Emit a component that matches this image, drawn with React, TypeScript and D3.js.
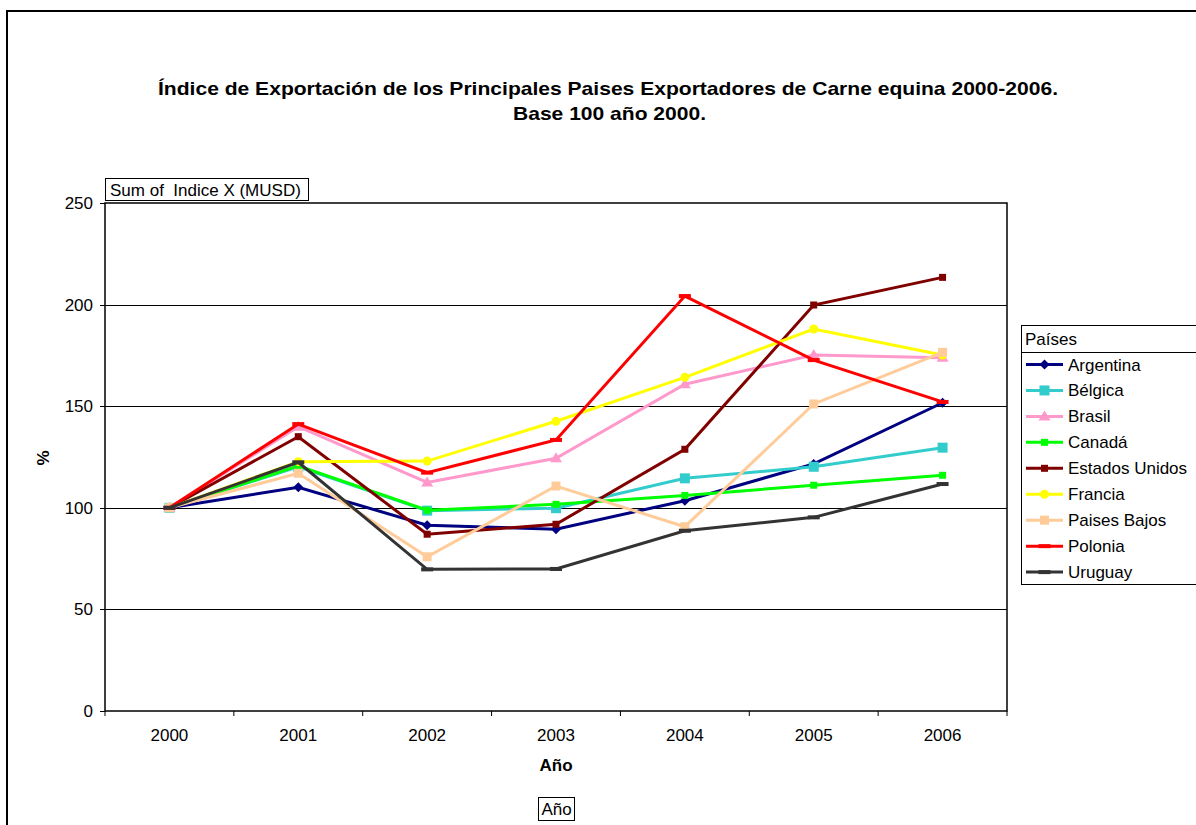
import React from "react";
import * as d3 from "d3";

const years = ["2000", "2001", "2002", "2003", "2004", "2005", "2006"];
const yTicks = [0, 50, 100, 150, 200, 250];

const countries = ["Argentina", "Bélgica", "Brasil", "Canadá", "Estados Unidos", "Francia", "Paises Bajos", "Polonia", "Uruguay"];
const colors = ["#000080", "#33CCCC", "#FF99CC", "#00FF00", "#800000", "#FFFF00", "#FFCC99", "#FF0000", "#333333"];
const markers = ["diamond", "bigsquare", "triangle", "square", "square", "circle", "midsquare", "dash", "dash"];

const argentina = [100, 110.1, 91.4, 89.5, 103.5, 121.6, 151.7];
const belgica = [100, 120.2, 98.6, 99.8, 114.5, 120.2, 129.6];
const brasil = [100, 139.9, 112.5, 124.4, 160.8, 175.2, 173.9];
const canada = [100, 120.6, 98.8, 101.7, 106.1, 111.1, 116.0];
const estadosUnidos = [100, 135.0, 87.0, 91.9, 128.8, 199.8, 213.4];
const francia = [100, 122.7, 123.0, 142.6, 164.2, 188.0, 175.2];
const paisesBajos = [100, 117.0, 75.9, 110.7, 90.7, 151.1, 176.5];
const polonia = [100, 141.2, 117.3, 133.4, 204.2, 172.7, 152.1];
const uruguay = [100, 122.4, 69.7, 69.9, 88.7, 95.3, 111.7];

const seriesValues = [argentina, belgica, brasil, canada, estadosUnidos, francia, paisesBajos, polonia, uruguay];

const FONT = "'Liberation Sans', Arial, Helvetica, sans-serif";
const FS = 17;

function Marker({ type, x, y, color }: { type: string; x: number; y: number; color: string }) {
  switch (type) {
    case "diamond":
      return <path d={`M${x},${y - 5}L${x + 5},${y}L${x},${y + 5}L${x - 5},${y}Z`} fill={color} />;
    case "bigsquare":
      return <rect x={x - 5} y={y - 5} width={10} height={10} fill={color} />;
    case "midsquare":
      return <rect x={x - 4.5} y={y - 4.5} width={9} height={9} fill={color} />;
    case "square":
      return <rect x={x - 3.5} y={y - 3.5} width={7} height={7} fill={color} />;
    case "triangle":
      return <path d={`M${x},${y - 6}L${x + 6},${y + 4}L${x - 6},${y + 4}Z`} fill={color} />;
    case "circle":
      return <circle cx={x} cy={y} r={4.5} fill={color} />;
    case "dash":
      return <rect x={x - 6} y={y - 2} width={12} height={4} fill={color} />;
    default:
      return null;
  }
}

export default function App() {
  const W = 1196;
  const H = 825;
  const left = 105;
  const right = 1007;
  const top = 203;
  const bottom = 711;

  const x = d3.scaleBand<string>().domain(years).range([left, right]).padding(0);
  const y = d3.scaleLinear().domain([0, 250]).range([bottom, top]);
  const line = d3
    .line<number>()
    .x((_, i) => (x(years[i]) as number) + x.bandwidth() / 2)
    .y((d) => y(d));

  const boundaries = years.map((yr) => x(yr) as number).concat([right]);

  const legendX = 1021;
  const legendTop = 326;
  const rowH = 25.95;

  return (
    <svg
      width={W}
      height={H}
      style={{ position: "absolute", left: 0, top: 0, background: "#fff" }}
      fontFamily={FONT}
    >
      <rect x={0} y={0} width={W} height={H} fill="#fff" />
      {/* outer frame */}
      <rect x={7} y={11} width={W + 20} height={H + 20} fill="none" stroke="#000" strokeWidth={2} />

      {/* title */}
      <text x={158} y={94.5} fontSize={18.5} fontWeight="bold" textLength={900} lengthAdjust="spacingAndGlyphs">
        Índice de Exportación de los Principales Paises Exportadores de Carne equina 2000-2006.
      </text>
      <text x={513} y={119.5} fontSize={18.5} fontWeight="bold" textLength={193} lengthAdjust="spacingAndGlyphs">
        Base 100 año 2000.
      </text>

      {/* page field button */}
      <rect x={105.5} y={178.5} width={203} height={22} fill="#fff" stroke="#000" strokeWidth={1} />
      <text x={110} y={195.5} fontSize={FS} xmlSpace="preserve" style={{ whiteSpace: "pre" }}>
        {"Sum of  Indice X (MUSD)"}
      </text>

      {/* grid lines */}
      {yTicks
        .filter((t) => t > 0 && t < 250)
        .map((t) => (
          <line key={t} x1={left} x2={right} y1={Math.round(y(t)) + 0.5} y2={Math.round(y(t)) + 0.5} stroke="#000" strokeWidth={1} />
        ))}

      {/* plot border */}
      <rect x={left} y={top} width={right - left} height={bottom - top} fill="none" stroke="#000" strokeWidth={1.5} />

      {/* y ticks */}
      {yTicks.map((t) => (
        <g key={t}>
          <line x1={left - 5} x2={left} y1={Math.round(y(t)) + 0.5} y2={Math.round(y(t)) + 0.5} stroke="#000" />
          <text x={93} y={y(t) + 6} textAnchor="end" fontSize={FS}>
            {t}
          </text>
        </g>
      ))}

      {/* x ticks */}
      {boundaries.map((b, i) => (
        <line key={i} x1={b} x2={b} y1={bottom} y2={bottom + 5} stroke="#000" />
      ))}
      {years.map((yr) => (
        <text key={yr} x={(x(yr) as number) + x.bandwidth() / 2} y={741} textAnchor="middle" fontSize={FS}>
          {yr}
        </text>
      ))}

      {/* axis titles */}
      <text x={556} y={771} textAnchor="middle" fontSize={FS} fontWeight="bold">
        Año
      </text>
      <text transform="translate(49,458) rotate(-90)" textAnchor="middle" fontSize={FS} fontWeight="bold">
        %
      </text>

      {/* field button Año */}
      <rect x={538.5} y={797.5} width={36} height={23} fill="#fff" stroke="#000" strokeWidth={1} />
      <text x={556.5} y={815} textAnchor="middle" fontSize={FS}>
        Año
      </text>

      {/* series */}
      {seriesValues.map((vals, si) => (
        <g key={countries[si]}>
          <path d={line(vals) as string} fill="none" stroke={colors[si]} strokeWidth={3} strokeLinejoin="miter" />
          {vals.map((v, i) => (
            <Marker
              key={i}
              type={markers[si]}
              x={(x(years[i]) as number) + x.bandwidth() / 2}
              y={y(v)}
              color={colors[si]}
            />
          ))}
        </g>
      ))}

      {/* legend */}
      <rect x={legendX + 0.5} y={legendTop - 0.5} width={W} height={259} fill="#fff" stroke="#000" strokeWidth={1} />
      <line x1={legendX} x2={W} y1={352.5} y2={352.5} stroke="#000" />
      <text x={legendX + 4} y={344.5} fontSize={FS}>
        Países
      </text>
      {countries.map((c, i) => {
        const cy = 364.5 + i * rowH;
        return (
          <g key={c}>
            <line x1={1026} x2={1063} y1={cy} y2={cy} stroke={colors[i]} strokeWidth={3} />
            <Marker type={markers[i]} x={1044.5} y={cy} color={colors[i]} />
            <text x={1068} y={cy + 6} fontSize={FS}>
              {c}
            </text>
          </g>
        );
      })}
    </svg>
  );
}
